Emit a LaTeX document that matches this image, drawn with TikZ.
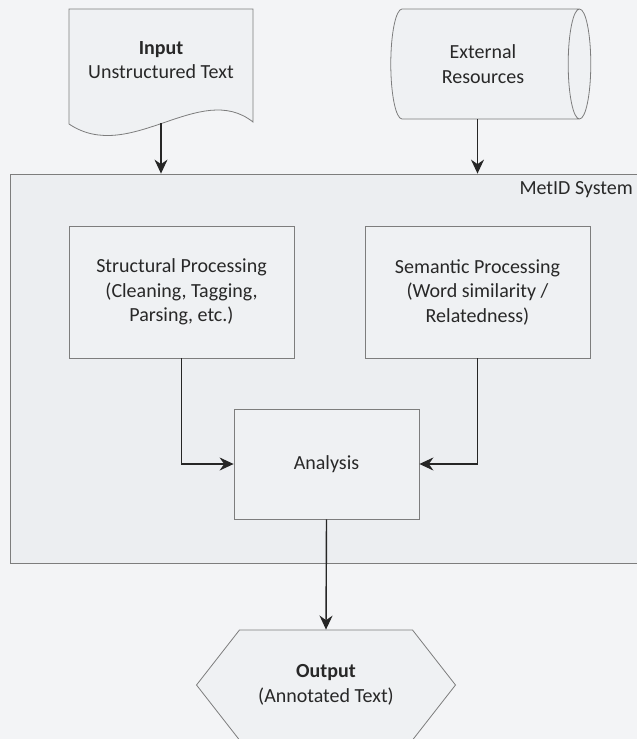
\documentclass[tikz,border=0pt]{standalone}
\usepackage{fontspec}
\setmainfont{Carlito}
\usetikzlibrary{arrows.meta,shapes.geometric,shapes.symbols}
\definecolor{bgcol}{RGB}{243,244,246}
\definecolor{boxfill}{RGB}{239,241,243}
\definecolor{sysfill}{RGB}{236,238,241}
\definecolor{edgecol}{RGB}{125,125,125}
\definecolor{txtcol}{RGB}{40,40,40}

\begin{document}
\begin{tikzpicture}[x=1pt,y=-1pt,
    every node/.style={font=\fontsize{20}{24.5}\selectfont, text=txtcol},
    box/.style={draw=edgecol, fill=boxfill, line width=0.8pt, align=center},
    arr/.style={-{Stealth[length=14pt,width=13pt]}, line width=1.4pt, draw=black!85}]
  \useasboundingbox (0,0) rectangle (637,739);
  \fill[bgcol] (0,0) rectangle (637,739);

  % system container
  \node[box, fill=sysfill, minimum width=650pt, minimum height=389pt] (sys) at (335,368.5) {};
  \node[anchor=west] (systitle) at (516,190) {MetID System};

  % inputs
  \draw[box] (69,9) -- (253,9) -- (253,122) .. controls (200,80) and (130,165) .. (69,124) -- cycle;
  \node[align=center] (input) at (161,60) {\textbf{Input}\\Unstructured Text};
  \coordinate (inbot) at (161,123);
  \node[box, cylinder, aspect=0.5, minimum height=200pt, minimum width=110pt] (ext) at (483,64) {External\\Resources};

  % processing
  \node[box, minimum width=225pt, minimum height=132pt] (str) at (181.5,292) {Structural Processing\\(Cleaning, Tagging,\\Parsing, etc.)};
  \node[box, minimum width=225pt, minimum height=132pt] (sem) at (477.5,292) {Semantic Processing\\(Word similarity /\\Relatedness)};
  \node[box, minimum width=185pt, minimum height=110pt] (ana) at (326.5,464) {Analysis};

  % output
  \node[box, signal, signal to=east and west, signal pointer angle=104, minimum width=259pt, minimum height=110pt] (out) at (326,685) {\textbf{Output}\\(Annotated Text)};

  \draw[arr] (inbot) -- (inbot |- sys.north);
  \draw[arr] (ext.south -| sem.north) -- (sem.north |- sys.north);
  \draw[arr] (str.south) |- (ana.west);
  \draw[arr] (sem.south) |- (ana.east);
  \draw[arr] (ana.south) -- (out.north);
\end{tikzpicture}
\end{document}
